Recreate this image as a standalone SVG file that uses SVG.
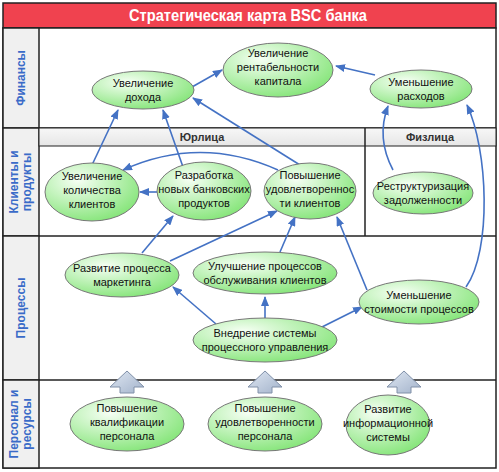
<svg xmlns="http://www.w3.org/2000/svg" width="499" height="472" viewBox="0 0 499 472">
<style>
.lane{fill:#f0f0f0;stroke:#222;stroke-width:1.5}
.line{stroke:#222;stroke-width:1.5;fill:none}
.lbl{font-family:"Liberation Sans",Arial,sans-serif;font-size:12px;font-weight:bold;fill:#3a6bc8;text-anchor:middle}
.sub{font-family:"Liberation Sans",Arial,sans-serif;font-size:11px;font-weight:bold;fill:#333;text-anchor:middle}
.node ellipse{fill:url(#g);stroke:#777;stroke-width:1}
.node text{font-family:"Liberation Sans",Arial,sans-serif;font-size:11px;fill:#111;text-anchor:middle}
.c{stroke:#4472c4;stroke-width:1.6;fill:none;marker-end:url(#ah)}
.blk{fill:url(#bg);stroke:#8090a8;stroke-width:1}
</style>
<defs>
<radialGradient id="g" cx="0.35" cy="0.3" r="0.75">
<stop offset="0" stop-color="#f6fff4"/>
<stop offset="1" stop-color="#86e57a"/>
</radialGradient>
<linearGradient id="bg" x1="0" y1="0" x2="1" y2="1">
<stop offset="0" stop-color="#dfe7f2"/>
<stop offset="1" stop-color="#a3b3cb"/>
</linearGradient>
<linearGradient id="hg" x1="0" y1="0" x2="0" y2="1">
<stop offset="0" stop-color="#f7f7f7"/>
<stop offset="1" stop-color="#e6e6e6"/>
</linearGradient>
<marker id="ah" markerWidth="10" markerHeight="8" refX="9" refY="4" orient="auto" markerUnits="userSpaceOnUse">
<path d="M0,0 L10,4 L0,8 Z" fill="#4472c4"/>
</marker>
</defs>
<rect x="0" y="0" width="499" height="472" fill="#fff"/>
<!-- title -->
<rect x="3" y="3" width="493" height="25" fill="#f0424f" stroke="#222" stroke-width="1.5"/>
<text x="248" y="21" font-family="'Liberation Sans',Arial,sans-serif" font-size="16" font-weight="bold" fill="#fff" text-anchor="middle" textLength="238" lengthAdjust="spacingAndGlyphs">Стратегическая карта BSC банка</text>
<!-- lanes -->
<rect x="3" y="28" width="493" height="440" fill="#fff" stroke="#222" stroke-width="1.5"/>
<rect class="lane" x="3" y="28" width="36" height="100"/>
<rect class="lane" x="3" y="128" width="36" height="108"/>
<rect class="lane" x="3" y="236" width="36" height="144"/>
<rect class="lane" x="3" y="380" width="36" height="88"/>
<line class="line" x1="39" y1="128" x2="496" y2="128"/>
<line class="line" x1="39" y1="236" x2="496" y2="236"/>
<line class="line" x1="39" y1="380" x2="496" y2="380"/>
<rect x="39" y="128" width="457" height="18" fill="url(#hg)" stroke="#222" stroke-width="1"/>
<line class="line" x1="365" y1="128" x2="365" y2="236"/>
<text class="sub" x="202" y="141">Юрлица</text>
<text class="sub" x="430" y="141">Физлица</text>
<text class="lbl" transform="translate(25,78) rotate(-90)">Финансы</text>
<text class="lbl" transform="translate(18,182) rotate(-90)">Клиенты и</text>
<text class="lbl" transform="translate(31,182) rotate(-90)">продукты</text>
<text class="lbl" transform="translate(25,308) rotate(-90)">Процессы</text>
<text class="lbl" transform="translate(18,424) rotate(-90)">Персонал и</text>
<text class="lbl" transform="translate(31,424) rotate(-90)">ресурсы</text>
<!-- block arrows -->
<g id="blockArrows">
<path class="blk" d="M127,371 L144,387 L134,387 L134,393 L120,393 L120,387 L110,387 Z"/>
<path class="blk" d="M265,371 L282,387 L272,387 L272,393 L258,393 L258,387 L248,387 Z"/>
<path class="blk" d="M404,371 L421,387 L411,387 L411,393 L397,393 L397,387 L387,387 Z"/>
</g>
<!-- connectors -->
<g id="connectors">
<path class="c" d="M192,87 L222,70"/>
<path class="c" d="M375,75 L336,66"/>
<path class="c" d="M92,165 L118,110"/>
<path class="c" d="M183,167 L163,110"/>
<path class="c" d="M300,165 L193,98"/>
<path class="c" d="M393,170 Q376,138 388,106"/>
<path class="c" d="M466,287 C492,250 488,150 467,105"/>
<path class="c" d="M278,170 Q200,135 123,170"/>
<path class="c" d="M157,192 L140,192"/>
<path class="c" d="M142,253 L173,216"/>
<path class="c" d="M170,261 L277,211"/>
<path class="c" d="M280,252 L295,217"/>
<path class="c" d="M367,290 L337,217"/>
<path class="c" d="M216,324 L173,287"/>
<path class="c" d="M265,318 L265,297"/>
<path class="c" d="M322,327 L362,307"/>
</g>
<!-- nodes -->
<g id="n1" class="node"><ellipse cx="143" cy="90" rx="51" ry="19"/><text x="143" y="87">Увеличение</text><text x="143" y="101">дохода</text></g>
<g id="n2" class="node"><ellipse cx="278" cy="70" rx="55" ry="27"/><text x="278" y="57">Увеличение</text><text x="278" y="71">рентабельности</text><text x="278" y="85">капитала</text></g>
<g id="n3" class="node"><ellipse cx="421" cy="89" rx="51" ry="19"/><text x="421" y="86">Уменьшение</text><text x="421" y="100">расходов</text></g>
<g id="n4" class="node"><ellipse cx="92" cy="192" rx="47" ry="29"/><text x="92" y="180">Увеличение</text><text x="92" y="194">количества</text><text x="92" y="208">клиентов</text></g>
<g id="n5" class="node"><ellipse cx="204" cy="191" rx="47" ry="29"/><text x="204" y="179">Разработка</text><text x="204" y="193">новых банковских</text><text x="204" y="207">продуктов</text></g>
<g id="n6" class="node"><ellipse cx="310" cy="191" rx="46" ry="28"/><text x="310" y="179">Повышение</text><text x="310" y="193">удовлетвореннос</text><text x="310" y="207">ти клиентов</text></g>
<g id="n7" class="node"><ellipse cx="423" cy="193" rx="50" ry="21"/><text x="423" y="190">Реструктуризация</text><text x="423" y="204">задолженности</text></g>
<g id="n8" class="node"><ellipse cx="122" cy="275" rx="57" ry="22"/><text x="122" y="272">Развитие процесса</text><text x="122" y="286">маркетинга</text></g>
<g id="n9" class="node"><ellipse cx="265" cy="273" rx="72" ry="21"/><text x="265" y="270">Улучшение процессов</text><text x="265" y="284">обслуживания клиентов</text></g>
<g id="n10" class="node"><ellipse cx="419" cy="302" rx="60" ry="22"/><text x="419" y="299">Уменьшение</text><text x="419" y="313">стоимости процессов</text></g>
<g id="n11" class="node"><ellipse cx="265" cy="340" rx="72" ry="22"/><text x="265" y="337">Внедрение системы</text><text x="265" y="351">процессного управления</text></g>
<g id="n12" class="node"><ellipse cx="127" cy="424" rx="57" ry="27"/><text x="127" y="412">Повышение</text><text x="127" y="426">квалификации</text><text x="127" y="440">персонала</text></g>
<g id="n13" class="node"><ellipse cx="265" cy="424" rx="57" ry="27"/><text x="265" y="412">Повышение</text><text x="265" y="426">удовлетворенности</text><text x="265" y="440">персонала</text></g>
<g id="n14" class="node"><ellipse cx="388" cy="425" rx="42" ry="30"/><text x="388" y="413">Развитие</text><text x="388" y="427">информационной</text><text x="388" y="441">системы</text></g>
</svg>
